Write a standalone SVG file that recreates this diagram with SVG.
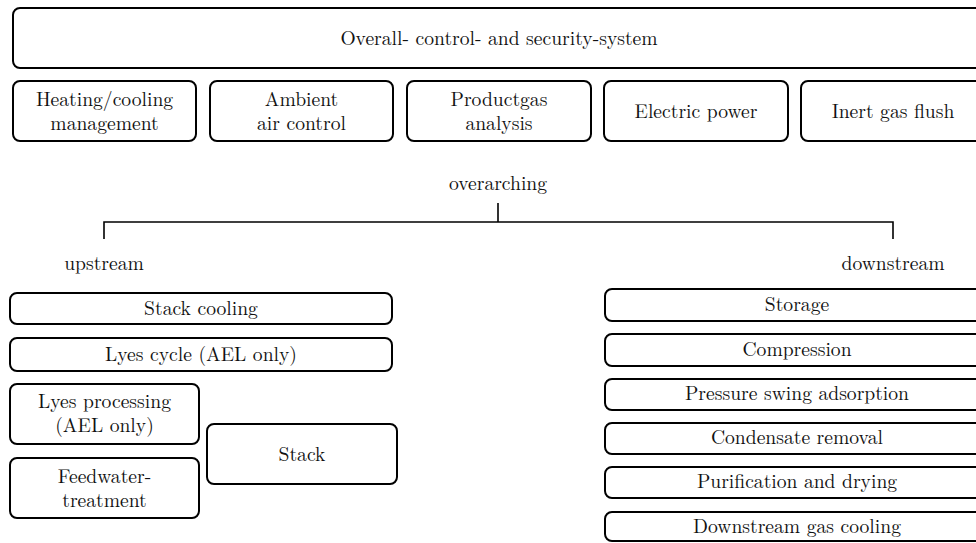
<svg xmlns="http://www.w3.org/2000/svg" width="976" height="543" viewBox="0 0 976 543">
<style>
.box{fill:#fff;stroke:#000;stroke-width:2}
.t{font-size:19.6px;fill:#111;text-anchor:middle}
.ln{fill:none;stroke:#000;stroke-width:1.6}
</style>
<rect width="976" height="543" fill="#fff"/>
<g id="overall"><rect class="box" x="13" y="8" width="972" height="60" rx="7"/><text class="t" font-family="Latin Modern Roman, Liberation Serif, serif" x="499" y="45">Overall- control- and security-system</text></g>
<g id="heating"><rect class="box" x="13" y="81" width="183" height="60" rx="7"/><text class="t" font-family="Latin Modern Roman, Liberation Serif, serif" x="104.5" y="105.5">Heating/cooling</text><text class="t" font-family="Latin Modern Roman, Liberation Serif, serif" x="104.5" y="129.5">management</text></g>
<g id="ambient"><rect class="box" x="210" y="81" width="183" height="60" rx="7"/><text class="t" font-family="Latin Modern Roman, Liberation Serif, serif" x="301.5" y="105.5">Ambient</text><text class="t" font-family="Latin Modern Roman, Liberation Serif, serif" x="301.5" y="129.5">air control</text></g>
<g id="productgas"><rect class="box" x="407" y="81" width="184" height="60" rx="7"/><text class="t" font-family="Latin Modern Roman, Liberation Serif, serif" x="499" y="105.5">Productgas</text><text class="t" font-family="Latin Modern Roman, Liberation Serif, serif" x="499" y="129.5">analysis</text></g>
<g id="electric"><rect class="box" x="604" y="81" width="184" height="60" rx="7"/><text class="t" font-family="Latin Modern Roman, Liberation Serif, serif" x="696" y="118">Electric power</text></g>
<g id="inert"><rect class="box" x="801" y="81" width="184" height="60" rx="7"/><text class="t" font-family="Latin Modern Roman, Liberation Serif, serif" x="893" y="118">Inert gas flush</text></g>
<g id="connectors">
<path class="ln" d="M498 203V222M104 239V222H893V239"/>
</g>
<g id="overarching"><text class="t" font-family="Latin Modern Roman, Liberation Serif, serif" x="498" y="190">overarching</text></g>
<g id="upstream"><text class="t" font-family="Latin Modern Roman, Liberation Serif, serif" x="104" y="270">upstream</text></g>
<g id="downstream"><text class="t" font-family="Latin Modern Roman, Liberation Serif, serif" x="893" y="270">downstream</text></g>
<g id="stackcooling"><rect class="box" x="10" y="293" width="382" height="31" rx="7"/><text class="t" font-family="Latin Modern Roman, Liberation Serif, serif" x="201" y="315">Stack cooling</text></g>
<g id="lyescycle"><rect class="box" x="10" y="338" width="382" height="33" rx="7"/><text class="t" font-family="Latin Modern Roman, Liberation Serif, serif" x="201" y="361">Lyes cycle (AEL only)</text></g>
<g id="lyesprocessing"><rect class="box" x="10" y="384" width="189" height="60" rx="7"/><text class="t" font-family="Latin Modern Roman, Liberation Serif, serif" x="104.5" y="407.5">Lyes processing</text><text class="t" font-family="Latin Modern Roman, Liberation Serif, serif" x="104.5" y="431.5">(AEL only)</text></g>
<g id="feedwater"><rect class="box" x="10" y="458" width="189" height="60" rx="7"/><text class="t" font-family="Latin Modern Roman, Liberation Serif, serif" x="104.5" y="482.5">Feedwater-</text><text class="t" font-family="Latin Modern Roman, Liberation Serif, serif" x="104.5" y="506.5">treatment</text></g>
<g id="stack"><rect class="box" x="207" y="424" width="190" height="60" rx="7"/><text class="t" font-family="Latin Modern Roman, Liberation Serif, serif" x="302" y="461">Stack</text></g>
<g id="storage"><rect class="box" x="605" y="289" width="384" height="32" rx="7"/><text class="t" font-family="Latin Modern Roman, Liberation Serif, serif" x="797" y="311">Storage</text></g>
<g id="compression"><rect class="box" x="605" y="334" width="384" height="32" rx="7"/><text class="t" font-family="Latin Modern Roman, Liberation Serif, serif" x="797" y="356">Compression</text></g>
<g id="psa"><rect class="box" x="605" y="379" width="384" height="31" rx="7"/><text class="t" font-family="Latin Modern Roman, Liberation Serif, serif" x="797" y="400">Pressure swing adsorption</text></g>
<g id="condensate"><rect class="box" x="605" y="423" width="384" height="31" rx="7"/><text class="t" font-family="Latin Modern Roman, Liberation Serif, serif" x="797" y="444">Condensate removal</text></g>
<g id="purification"><rect class="box" x="605" y="467" width="384" height="31" rx="7"/><text class="t" font-family="Latin Modern Roman, Liberation Serif, serif" x="797" y="488">Purification and drying</text></g>
<g id="dsgascooling"><rect class="box" x="605" y="512" width="384" height="29" rx="7"/><text class="t" font-family="Latin Modern Roman, Liberation Serif, serif" x="797" y="533">Downstream gas cooling</text></g>
</svg>
